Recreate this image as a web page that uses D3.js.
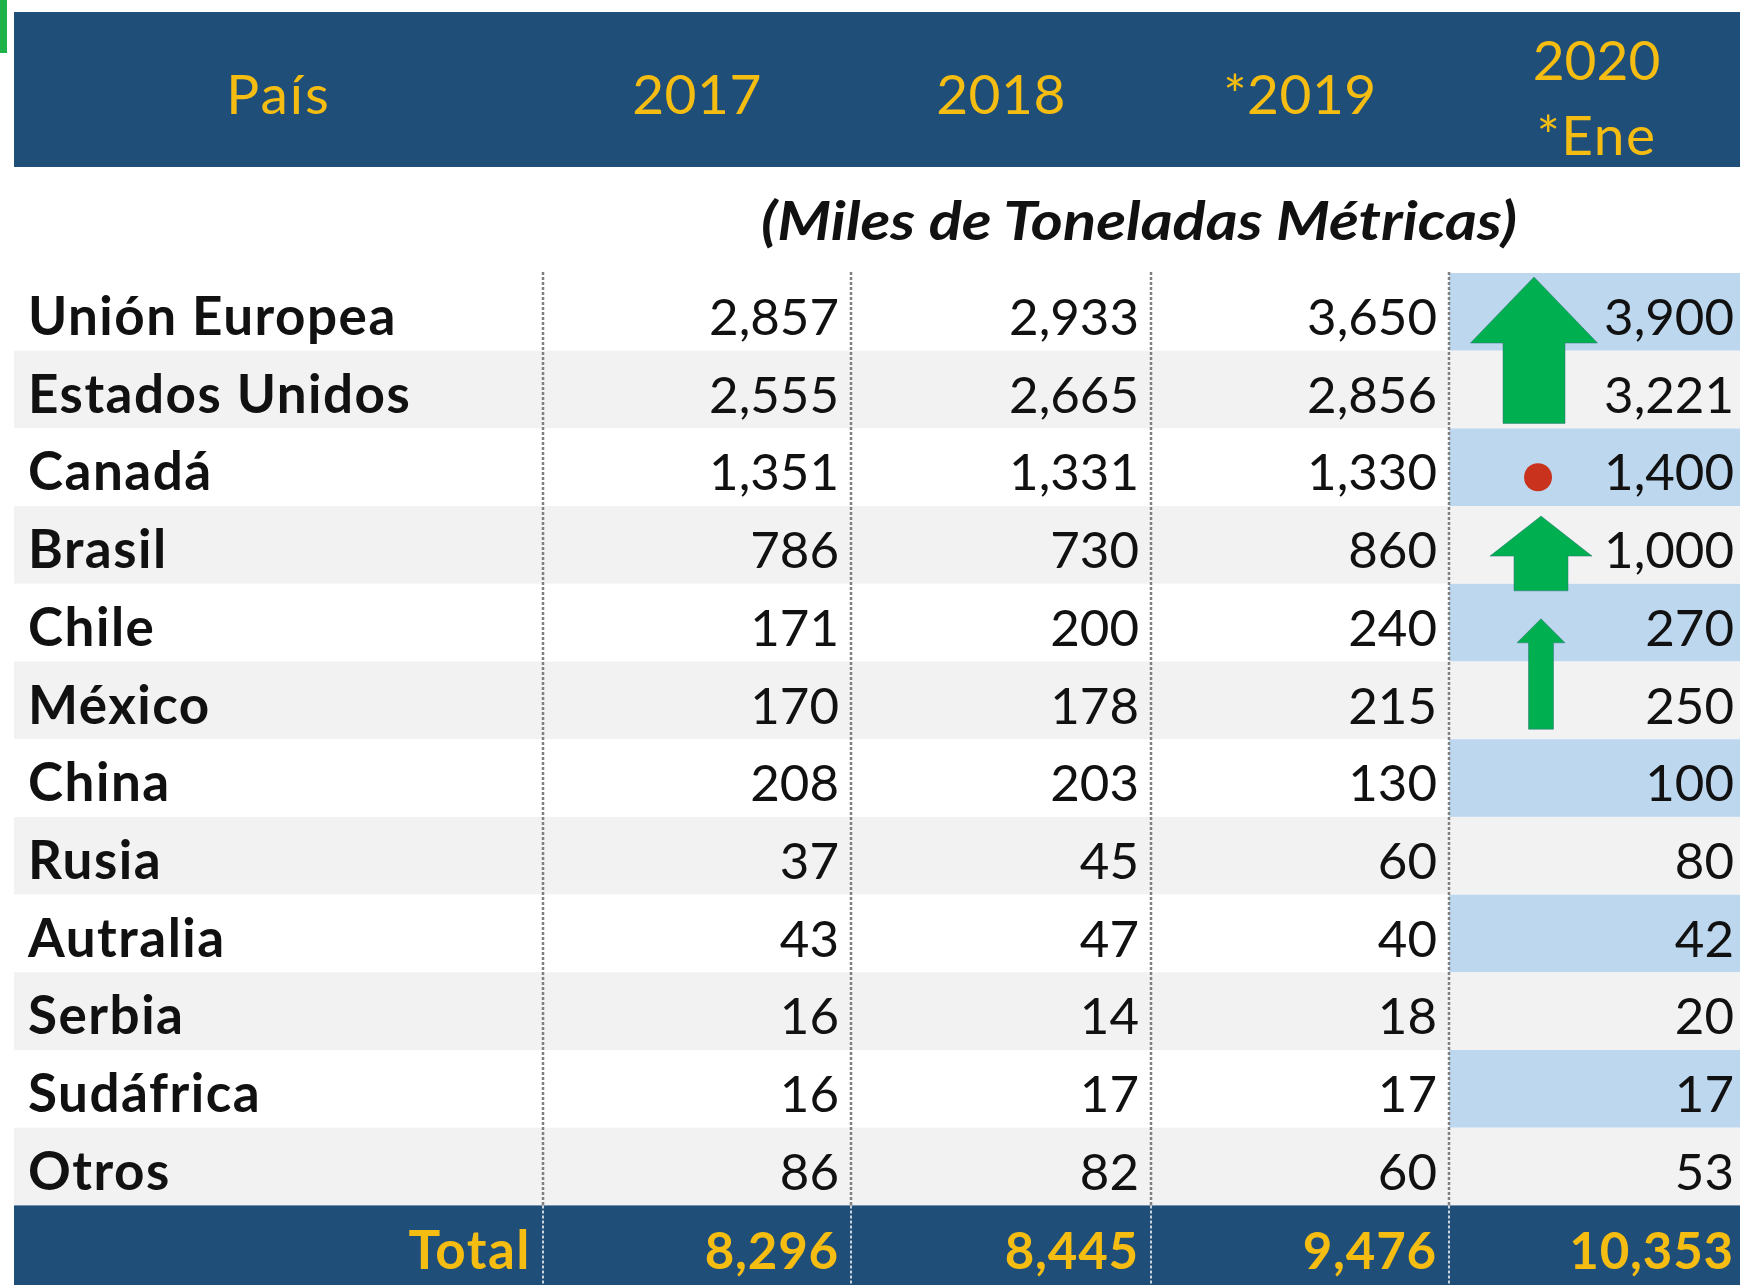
<!DOCTYPE html>
<html>
<head>
<meta charset="utf-8">
<script src="https://cdn.jsdelivr.net/npm/d3@7"></script>
<style>
  body { margin: 0; background: #fff; }
  svg { display: block; font-family: Lato, "Open Sans", sans-serif; }
</style>
</head>
<body>
<svg id="chart"></svg>
<script>
// Table data
const columns = ["País", "2017", "2018", "*2019", "2020"];
const countries = ["Unión Europea", "Estados Unidos", "Canadá", "Brasil", "Chile", "México",
  "China", "Rusia", "Autralia", "Serbia", "Sudáfrica", "Otros"];
const v2017 = [2857, 2555, 1351, 786, 171, 170, 208, 37, 43, 16, 16, 86];
const v2018 = [2933, 2665, 1331, 730, 200, 178, 203, 45, 47, 14, 17, 82];
const v2019 = [3650, 2856, 1330, 860, 240, 215, 130, 60, 40, 18, 17, 60];
const v2020 = [3900, 3221, 1400, 1000, 270, 250, 100, 80, 42, 20, 17, 53];
const totals = [8296, 8445, 9476, 10353];
const subtitle = "(Miles de Toneladas Métricas)";

// trend marks in the 2020 column
const trends = [
  { country: "Unión Europea", span: 2, mark: "bigUp" },
  { country: "Canadá", span: 1, mark: "dot" },
  { country: "Brasil", span: 1, mark: "midUp" },
  { country: "Chile", span: 2, mark: "thinUp" }
];

const width = 1740;
const height = 1285;
const navy = "#1f4e79";
const gold = "#f5bd12";
const fmt = d3.format(",");

const svg = d3.select("#chart").attr("width", width).attr("height", height);

// column edges (left, ..., right)
const edges = [14, 543, 851, 1151, 1449, 1740];
const colLeft = d3.scaleOrdinal().domain(columns).range(edges.slice(0, 5));
const colRight = d3.scaleOrdinal().domain(columns).range(edges.slice(1));

// rows (countries + total)
const rowKeys = countries.concat(["Total"]);
const rowH = 77.7;
const y = d3.scaleBand().domain(rowKeys).range([273, 273 + rowKeys.length * rowH]).padding(0);

// little green tab top-left
svg.append("rect").attr("x", 0).attr("y", 0).attr("width", 7).attr("height", 53).attr("fill", "#1db34a");

// header band
svg.append("rect").attr("x", 14).attr("y", 12).attr("width", width - 14).attr("height", 155).attr("fill", navy);

const header = svg.append("g")
  .attr("fill", gold)
  .attr("font-size", 55)
  .attr("text-anchor", "middle");

columns.forEach((c) => {
  const cx = (colLeft(c) + colRight(c)) / 2;
  if (c === "2020") {
    header.append("text").attr("x", cx + 2).attr("y", 80).text("2020");
    header.append("text").attr("x", cx + 2).attr("y", 155).attr("letter-spacing", 1.5).text("*Ene");
  } else {
    header.append("text").attr("x", cx).attr("y", 114)
      .attr("letter-spacing", c === "País" ? 2 : 0.5).text(c);
  }
});

// subtitle
svg.append("text")
  .attr("x", 1139)
  .attr("y", 240)
  .attr("text-anchor", "middle")
  .attr("font-size", 54)
  .attr("font-weight", "bold")
  .attr("font-style", "italic")
  .attr("fill", "#111")
  .attr("textLength", 756)
  .attr("lengthAdjust", "spacingAndGlyphs")
  .text(subtitle);

// row backgrounds
const rows = svg.append("g");
countries.forEach((c, i) => {
  const shaded = i % 2 === 1;
  rows.append("rect")
    .attr("x", 14).attr("y", y(c))
    .attr("width", width - 14).attr("height", y.bandwidth())
    .attr("fill", shaded ? "#f2f2f2" : "#ffffff");
  if (!shaded) {
    rows.append("rect")
      .attr("x", colLeft("2020")).attr("y", y(c))
      .attr("width", width - colLeft("2020")).attr("height", y.bandwidth())
      .attr("fill", "#bdd7ee");
  }
});

// total band
svg.append("rect")
  .attr("x", 14).attr("y", y("Total"))
  .attr("width", width - 14).attr("height", height - y("Total"))
  .attr("fill", navy);

// dotted column dividers
const dividerX = edges.slice(1, 5);
svg.append("g").selectAll("line")
  .data(dividerX)
  .join("line")
  .attr("x1", (d) => d).attr("x2", (d) => d)
  .attr("y1", 272).attr("y2", y("Total"))
  .attr("stroke", "#808080")
  .attr("stroke-width", 2.5)
  .attr("stroke-dasharray", "3,2");
svg.append("g").selectAll("line")
  .data(dividerX)
  .join("line")
  .attr("x1", (d) => d).attr("x2", (d) => d)
  .attr("y1", y("Total")).attr("y2", height)
  .attr("stroke", "#c9d3de")
  .attr("stroke-width", 2)
  .attr("stroke-dasharray", "3,2");

// trend marks
const marks = svg.append("g");
const markX = colLeft("2020") + 88;
const arrowStyle = {
  bigUp: { dx: -3, top: 4, bottom: -5, head: 66, headW: 127, shaftW: 62 },
  midUp: { dx: 4, top: 10, bottom: 7, head: 40, headW: 102, shaftW: 54 },
  thinUp: { dx: 4, top: 35, bottom: -10, head: 24, headW: 48, shaftW: 25 }
};
trends.forEach((t) => {
  const top = y(t.country);
  const bottom = top + t.span * y.bandwidth();
  if (t.mark === "dot") {
    marks.append("circle")
      .attr("cx", markX + 1).attr("cy", top + y.bandwidth() / 2 + 10)
      .attr("r", 14).attr("fill", "#c9321c");
    return;
  }
  const s = arrowStyle[t.mark];
  const x0 = markX + s.dx;
  const ya = top + s.top;
  const yh = ya + s.head;
  const yb = bottom + s.bottom;
  const p = d3.path();
  p.moveTo(x0, ya);
  p.lineTo(x0 + s.headW / 2, yh);
  p.lineTo(x0 + s.shaftW / 2, yh);
  p.lineTo(x0 + s.shaftW / 2, yb);
  p.lineTo(x0 - s.shaftW / 2, yb);
  p.lineTo(x0 - s.shaftW / 2, yh);
  p.lineTo(x0 - s.headW / 2, yh);
  p.closePath();
  marks.append("path")
    .attr("d", p.toString())
    .attr("fill", "#00b050")
    .attr("stroke", "#2f6f7a")
    .attr("stroke-width", 1)
    .attr("stroke-opacity", 0.5);
});

// country labels and values
const body = svg.append("g").attr("font-size", 51).attr("fill", "#111");
const series = [v2017, v2018, v2019, v2020];
const yearCols = columns.slice(1);

countries.forEach((c, i) => {
  const base = y(c) + 62;
  body.append("text")
    .attr("x", 28).attr("y", base)
    .attr("font-weight", "bold")
    .attr("font-size", 53)
    .attr("letter-spacing", 1.5)
    .text(c);
  yearCols.forEach((col, j) => {
    body.append("text")
      .attr("x", colRight(col) - (j === 3 ? 6 : 12))
      .attr("y", base)
      .attr("text-anchor", "end")
      .text(fmt(series[j][i]));
  });
});

// total row
const totalG = svg.append("g").attr("font-size", 51).attr("font-weight", "bold").attr("fill", gold);
const tBase = y("Total") + 64;
totalG.append("text")
  .attr("x", colRight("País") - 12).attr("y", tBase)
  .attr("text-anchor", "end")
  .attr("font-size", 53)
  .attr("letter-spacing", 1.5)
  .text("Total");
yearCols.forEach((col, j) => {
  totalG.append("text")
    .attr("x", colRight(col) - (j === 3 ? 6 : 12))
    .attr("y", tBase)
    .attr("text-anchor", "end")
    .attr("letter-spacing", 0.8)
    .text(fmt(totals[j]));
});
</script>
</body>
</html>
